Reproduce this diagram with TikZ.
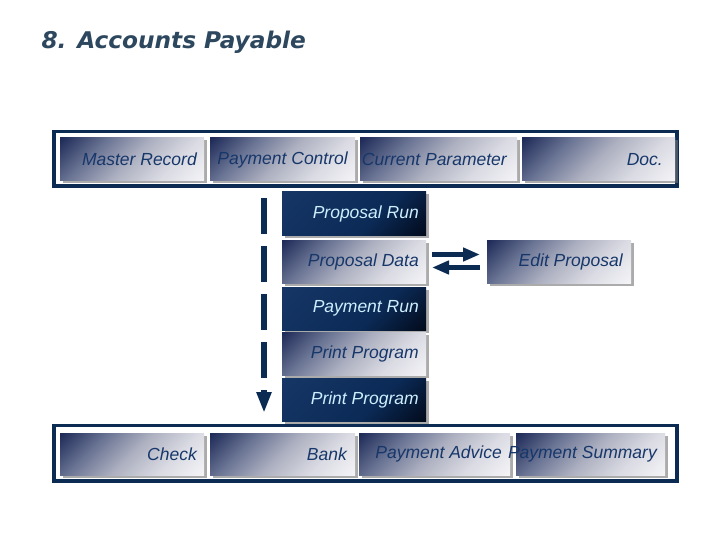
\documentclass[tikz,border=0pt]{standalone}
\usepackage{fontspec}
\setmainfont{Liberation Sans}
\newfontfamily\titlefont{DejaVu Sans}
\usetikzlibrary{shadows,arrows.meta}

\definecolor{navyline}{HTML}{0B2B52}
\definecolor{navytext}{HTML}{17376A}
\definecolor{navyshade}{HTML}{1E2B58}
\definecolor{dimshade}{HTML}{6A7494}
\definecolor{midshade}{HTML}{ADB0C0}
\definecolor{lightshade}{HTML}{DADBE3}
\definecolor{whiteshade}{HTML}{F4F4F7}
\definecolor{darkbox}{HTML}{0B2A56}
\definecolor{darktop}{HTML}{163666}
\definecolor{darkend}{HTML}{020B1C}
\definecolor{lighttext}{HTML}{CDEFFF}
\definecolor{titlecol}{HTML}{2C475E}

\pgfdeclareverticalshading{boxshade}{100bp}{color(0bp)=(whiteshade); color(15bp)=(whiteshade);
  color(32bp)=(lightshade); color(50bp)=(midshade); color(67bp)=(dimshade);
  color(85bp)=(navyshade); color(100bp)=(navyshade)}
\pgfdeclareverticalshading{darkshade}{100bp}{color(0bp)=(darkend); color(15bp)=(darkend);
  color(40bp)=(darkbox); color(85bp)=(darktop); color(100bp)=(darktop)}

\begin{document}
\begin{tikzpicture}[x=1pt,y=-1pt,
    frame/.style={draw=navyline,line width=3.5pt,fill=white,inner sep=0pt,outer sep=0pt,anchor=north west},
    lightbox/.style={inner sep=0pt,outer sep=0pt,anchor=north west,minimum height=43pt,
        shading=boxshade,shading angle=45,
        drop shadow={shadow xshift=2.5pt,shadow yshift=-2.5pt,fill=black!55,opacity=0.6}},
    darkbox/.style={lightbox,shading=darkshade,shading angle=45},
    boxlabel/.style={anchor=east,inner sep=0pt,text=navytext,font=\fontsize{17.5}{20}\selectfont\itshape},
    darklabel/.style={boxlabel,text=lighttext},
    pairarrow/.style={draw=navyline,line width=4.5pt,-{Triangle[length=17pt,width=13pt]}}]
\useasboundingbox (0,0) rectangle (720,540);

% title
\node[anchor=west,text=titlecol,font=\titlefont\fontsize{23}{26}\selectfont\bfseries\itshape,xscale=1.01,transform shape] (title) at (38,42) {8. Accounts Payable};

% top frame
\node[frame,minimum width=623pt,minimum height=54.5pt] (topframe) at (54,131.5) {};
\node[lightbox,minimum width=144pt] (master) at (60,138) {};
\node[lightbox,minimum width=145pt] (payctrl) at (210,138) {};
\node[lightbox,minimum width=157pt] (curparam) at (360,138) {};
\node[lightbox,minimum width=153pt] (doc) at (522,138) {};
\node[boxlabel] (mastertext) at ([xshift=-7pt]master.east) {Master Record};
\node[boxlabel] (payctrltext) at ([xshift=-7pt]payctrl.east) {Payment Control};
\node[boxlabel] (curparamtext) at ([xshift=-10pt]curparam.east) {Current Parameter};
\node[boxlabel] (doctext) at ([xshift=-12pt]doc.east) {Doc.};

% middle column
\node[darkbox,minimum width=144pt] (proprun) at (282,192) {};
\node[lightbox,minimum width=144pt] (propdata) at (282,240) {};
\node[lightbox,minimum width=144pt] (editprop) at (487,240) {};
\node[darkbox,minimum width=144pt] (payrun) at (282,287) {};
\node[lightbox,minimum width=144pt] (printlight) at (282,332) {};
\node[darkbox,minimum width=144pt] (printdark) at (282,378) {};
\node[darklabel] (propruntext) at ([xshift=-7pt]proprun.east) {Proposal Run};
\node[boxlabel] (propdatatext) at ([xshift=-7pt]propdata.east) {Proposal Data};
\node[boxlabel] (editproptext) at ([xshift=-8pt]editprop.east) {Edit Proposal};
\node[darklabel] (payruntext) at ([xshift=-7pt]payrun.east) {Payment Run};
\node[boxlabel] (printlighttext) at ([xshift=-7pt]printlight.east) {Print Program};
\node[darklabel] (printdarktext) at ([xshift=-7pt]printdark.east) {Print Program};

\draw[pairarrow] ([xshift=6pt,yshift=7pt]propdata.east) -- ([xshift=-7pt,yshift=7pt]editprop.west);
\draw[pairarrow] ([xshift=-7pt,yshift=-6pt]editprop.west) -- ([xshift=6pt,yshift=-6pt]propdata.east);

% flow arrow
\coordinate (flowtop) at (264,198);
\coordinate (flowend) at (264,413);
\draw[navyline,line width=6pt,dash pattern=on 36pt off 12pt,-{Triangle[length=21pt,width=14pt]}] (flowtop) -- (flowend);

% bottom frame
\node[frame,minimum width=623pt,minimum height=55.5pt] (bottomframe) at (54,425.5) {};
\node[lightbox,minimum width=144pt,minimum height=42pt] (check) at (60,433) {};
\node[lightbox,minimum width=145pt,minimum height=42pt] (bank) at (210,433) {};
\node[lightbox,minimum width=151pt,minimum height=42pt] (advice) at (359,433) {};
\node[lightbox,minimum width=149pt,minimum height=42pt] (summary) at (516,433) {};
\node[boxlabel] (checktext) at ([xshift=-7pt]check.east) {Check};
\node[boxlabel] (banktext) at ([xshift=-8pt]bank.east) {Bank};
\node[boxlabel] (advicetext) at ([xshift=-8pt]advice.east) {Payment Advice};
\node[boxlabel] (summarytext) at ([xshift=-8pt]summary.east) {Payment Summary};
\end{tikzpicture}
\end{document}
